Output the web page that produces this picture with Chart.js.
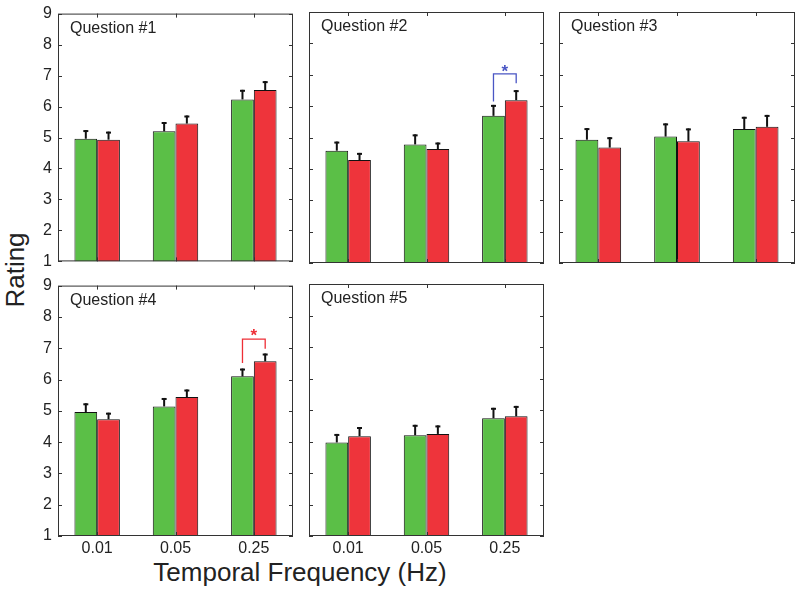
<!DOCTYPE html>
<html>
<head>
<meta charset="utf-8">
<script src="https://cdn.jsdelivr.net/npm/chart.js@4.4.0/dist/chart.umd.min.js"></script>
<style>
  html, body { margin: 0; padding: 0; background: #fff; }
  #stage { position: relative; width: 800px; height: 592px; overflow: hidden; font-family: "Liberation Sans", Arial, sans-serif; color: #222; }
  #stage canvas { position: absolute; }
  .axis-title { position: absolute; font-size: 26px; white-space: nowrap; }
  #ylabel { left: 15px; top: 270px; transform: translate(-50%, -50%) rotate(-90deg); }
  #xlabel { left: 300px; top: 572px; transform: translate(-50%, -50%); }
</style>
</head>
<body>
<div id="stage">
  <div id="ylabel" class="axis-title">Rating</div>
  <div id="xlabel" class="axis-title">Temporal Frequency (Hz)</div>
</div>
<script>
const frequencies = ["0.01", "0.05", "0.25"];
const panelTitles = ["Question #1", "Question #2", "Question #3", "Question #4", "Question #5"];

// mean ratings, green condition / red condition, per question
const greenMeans = [
  [4.96, 5.20, 6.23],
  [4.58, 4.78, 5.69],
  [4.93, 5.03, 5.27],
  [4.96, 5.14, 6.10],
  [3.97, 4.20, 4.74],
];
const redMeans = [
  [4.93, 5.45, 6.53],
  [4.28, 4.63, 6.19],
  [4.68, 4.88, 5.34],
  [4.73, 5.44, 6.58],
  [4.17, 4.24, 4.80],
];
// error bar half-lengths (drawn upward only)
const greenErrors = [
  [0.28, 0.30, 0.31],
  [0.29, 0.32, 0.35],
  [0.37, 0.42, 0.39],
  [0.28, 0.27, 0.25],
  [0.27, 0.33, 0.33],
];
const redErrors = [
  [0.26, 0.26, 0.29],
  [0.23, 0.21, 0.32],
  [0.33, 0.41, 0.38],
  [0.21, 0.24, 0.25],
  [0.29, 0.27, 0.33],
];

// significance brackets: [panel, category, left end, top, right end, star]
const brackets = [
  [1, 2, 6.15, 7.03, 6.73, 7.2],
  [3, 2, 6.53, 7.29, 6.98, 7.51],
];
const bracketColors = { 1: "#4a56c4", 3: "#ee2e36" };

const yTicks = [1, 2, 3, 4, 5, 6, 7, 8, 9];

const GREEN = "#5bbf47";
const RED = "#ee343b";
const FONT = '"Liberation Sans", Arial, sans-serif';

// plot areas in page pixels: left, top, right, bottom
const plotRects = [
  [58, 12, 293, 263],
  [309, 12, 544, 263],
  [559, 12, 795, 263],
  [58, 284, 293, 536],
  [309, 284, 544, 536],
];
const showYLabels = [true, false, false, true, false];
const showXLabels = [false, false, false, true, true];

const panelPlugin = {
  id: "panelDecor",
  afterDatasetsDraw(chart) {
    const ctx = chart.ctx;
    const area = chart.chartArea;
    const xScale = chart.scales.x;
    const yScale = chart.scales.y;
    const extra = chart.options.plugins.panelDecor;

    ctx.save();

    // error bars
    chart.data.datasets.forEach((ds, di) => {
      const meta = chart.getDatasetMeta(di);
      meta.data.forEach((bar, i) => {
        const top = yScale.getPixelForValue(ds.data[i] + ds.errors[i]);
        ctx.strokeStyle = "#111";
        ctx.lineWidth = 2;
        ctx.beginPath();
        ctx.moveTo(bar.x, bar.y);
        ctx.lineTo(bar.x, top);
        ctx.stroke();
        ctx.beginPath();
        ctx.moveTo(bar.x - 2.5, top + 1);
        ctx.lineTo(bar.x + 2.5, top + 1);
        ctx.stroke();
      });
    });

    // bracket
    if (extra.bracket) {
      const [, cat, leftEnd, topVal, rightEnd, star] = extra.bracket;
      const gx = chart.getDatasetMeta(0).data[cat].x;
      const rx = chart.getDatasetMeta(1).data[cat].x;
      ctx.strokeStyle = extra.bracketColor;
      ctx.lineWidth = 1.3;
      ctx.beginPath();
      ctx.moveTo(gx, yScale.getPixelForValue(leftEnd));
      ctx.lineTo(gx, yScale.getPixelForValue(topVal));
      ctx.lineTo(rx, yScale.getPixelForValue(topVal));
      ctx.lineTo(rx, yScale.getPixelForValue(rightEnd));
      ctx.stroke();
      ctx.fillStyle = extra.bracketColor;
      ctx.font = "bold 17px " + FONT;
      ctx.textAlign = "center";
      ctx.textBaseline = "middle";
      ctx.fillText("*", (gx + rx) / 2, yScale.getPixelForValue(star) + 4);
    }

    // box
    ctx.strokeStyle = "#333";
    ctx.lineWidth = 1;
    ctx.strokeRect(area.left + 0.5, area.top + 0.5, area.right - area.left - 1, area.bottom - area.top - 1);

    // inward ticks
    ctx.beginPath();
    yTicks.forEach((v) => {
      const y = Math.round(yScale.getPixelForValue(v)) + 0.5;
      ctx.moveTo(area.left, y);
      ctx.lineTo(area.left + 4, y);
      ctx.moveTo(area.right, y);
      ctx.lineTo(area.right - 4, y);
    });
    frequencies.forEach((_, i) => {
      const x = Math.round(xScale.getPixelForValue(i)) + 0.5;
      ctx.moveTo(x, area.top);
      ctx.lineTo(x, area.top + 4);
      ctx.moveTo(x, area.bottom);
      ctx.lineTo(x, area.bottom - 4);
    });
    ctx.stroke();

    // panel title
    ctx.fillStyle = "#222";
    ctx.font = "16px " + FONT;
    ctx.textAlign = "left";
    ctx.textBaseline = "top";
    ctx.fillText(extra.title, area.left + 12, area.top + 7);

    ctx.restore();
  },
};

function buildPanel(index) {
  const [l, t, r, b] = plotRects[index];
  const yw = showYLabels[index] ? 58 : 0;
  const xh = showXLabels[index] ? 30 : 0;
  const padL = showYLabels[index] ? 0 : 6;
  const padT = 14;
  const padR = 6;
  const padB = showXLabels[index] ? 0 : 14;

  const canvas = document.createElement("canvas");
  const left = l - yw - padL;
  const top = t - padT;
  canvas.width = r + padR - left;
  canvas.height = b + xh + padB - top;
  canvas.style.left = left + "px";
  canvas.style.top = top + "px";
  document.getElementById("stage").appendChild(canvas);

  const bracket = brackets.find((br) => br[0] === index);

  return new Chart(canvas, {
    type: "bar",
    data: {
      labels: frequencies,
      datasets: [
        {
          data: greenMeans[index],
          errors: greenErrors[index],
          backgroundColor: GREEN,
          borderColor: "#111",
          borderWidth: 1,
          base: 1,
          categoryPercentage: 0.58,
          barPercentage: 1,
        },
        {
          data: redMeans[index],
          errors: redErrors[index],
          backgroundColor: RED,
          borderColor: "#111",
          borderWidth: 1,
          base: 1,
          categoryPercentage: 0.58,
          barPercentage: 1,
        },
      ],
    },
    options: {
      responsive: false,
      animation: false,
      devicePixelRatio: 1,
      layout: { padding: { left: padL, top: padT, right: padR, bottom: padB } },
      plugins: {
        legend: { display: false },
        tooltip: { enabled: false },
        panelDecor: { title: panelTitles[index], bracket, bracketColor: bracket ? bracketColors[index] : null },
      },
      scales: {
        x: {
          grid: { display: false, drawTicks: false },
          border: { display: false },
          ticks: {
            display: showXLabels[index],
            padding: 3,
            color: "#222",
            font: { family: FONT, size: 16 },
          },
          afterFit: (scale) => { scale.height = xh; },
        },
        y: {
          min: 1,
          max: 9,
          grid: { display: false, drawTicks: false },
          border: { display: false },
          ticks: {
            display: showYLabels[index],
            stepSize: 1,
            padding: 6,
            color: "#222",
            font: { family: FONT, size: 16 },
          },
          afterFit: (scale) => { scale.width = yw; },
        },
      },
    },
    plugins: [panelPlugin],
  });
}

plotRects.forEach((_, i) => buildPanel(i));
</script>
</body>
</html>
